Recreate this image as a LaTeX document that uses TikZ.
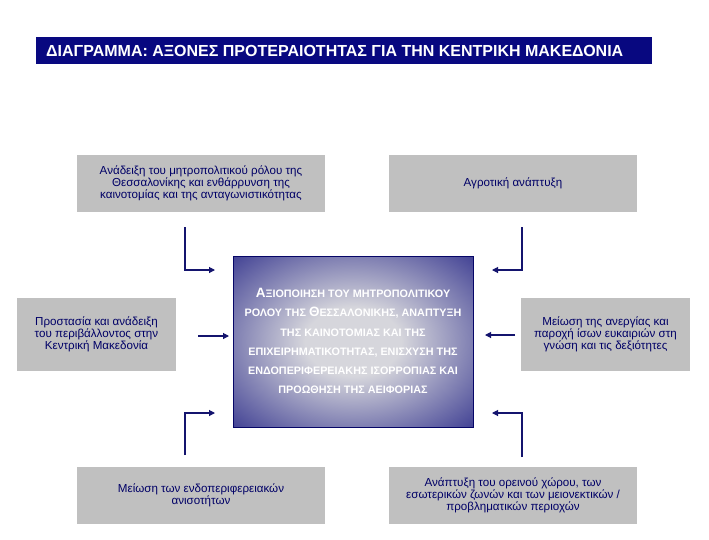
\documentclass[tikz,border=0pt]{standalone}
\usepackage{fontspec}
\setmainfont{Liberation Sans}
\usetikzlibrary{arrows.meta}
\definecolor{navy}{RGB}{8,8,128}
\definecolor{cnavy}{RGB}{28,28,130}
\definecolor{boxgray}{RGB}{192,192,192}
\definecolor{txtnavy}{RGB}{0,0,102}
\definecolor{arrnavy}{RGB}{20,20,110}
\definecolor{centerlight}{RGB}{214,214,220}
\pgfdeclareradialshading{ctrshade}{\pgfpoint{0bp}{0bp}}{%
  color(0bp)=(centerlight); color(10bp)=(centerlight);
  color(26bp)=(cnavy!50!centerlight); color(42bp)=(cnavy); color(50bp)=(cnavy); color(80bp)=(cnavy)}
\tikzset{
  graybox/.style={fill=boxgray, draw=none, inner sep=0pt, text=txtnavy, align=center,
    font=\fontsize{11.6}{12}\selectfont},
  conn/.style={draw=arrnavy, line width=1.1pt, -{Triangle[length=6pt,width=6pt]}},
}
\begin{document}
\begin{tikzpicture}[x=1pt,y=-1pt]
\useasboundingbox (0,0) rectangle (709,539);
\fill[white] (0,0) rectangle (709,539);
% title
\node[fill=navy, minimum width=616pt, minimum height=27pt, anchor=north west, inner sep=0pt] (title) at (36,37) {};
\node[anchor=west, text=white, font=\bfseries\fontsize{16}{18}\selectfont, inner sep=0pt] (titletext) at (46,50.5) {ΔΙΑΓΡΑΜΜΑ: ΑΞΟΝΕΣ ΠΡΟΤΕΡΑΙΟΤΗΤΑΣ ΓΙΑ ΤΗΝ ΚΕΝΤΡΙΚΗ ΜΑΚΕΔΟΝΙΑ};
% center box
\shade[shading=ctrshade] (233,256) rectangle (473,427);
\draw[navy!80!black, line width=0.8pt] (233,256) rectangle (473,427);
\node[text=white, align=center, inner sep=0pt, font=\bfseries\fontsize{10.8}{19.2}\selectfont] (center) at (353,341)
 {{\fontsize{13.5}{19.2}\selectfont Α}ΞΙΟΠΟΙΗΣΗ ΤΟΥ ΜΗΤΡΟΠΟΛΙΤΙΚΟΥ\\
  ΡΟΛΟΥ ΤΗΣ {\fontsize{13.5}{19.2}\selectfont Θ}ΕΣΣΑΛΟΝΙΚΗΣ, ΑΝΑΠΤΥΞΗ\\
  ΤΗΣ ΚΑΙΝΟΤΟΜΙΑΣ ΚΑΙ ΤΗΣ\\
  ΕΠΙΧΕΙΡΗΜΑΤΙΚΟΤΗΤΑΣ, ΕΝΙΣΧΥΣΗ ΤΗΣ\\
  ΕΝΔΟΠΕΡΙΦΕΡΕΙΑΚΗΣ ΙΣΟΡΡΟΠΙΑΣ ΚΑΙ\\
  ΠΡΟΩΘΗΣΗ ΤΗΣ ΑΕΙΦΟΡΙΑΣ};
% boxes
\node[graybox, minimum width=248pt, minimum height=57pt] (tl) at (201,183.5)
 {Ανάδειξη του μητροπολιτικού ρόλου της\\Θεσσαλονίκης και ενθάρρυνση της\\καινοτομίας και της ανταγωνιστικότητας};
\node[graybox, minimum width=248pt, minimum height=57pt] (tr) at (513,183.5)
 {Αγροτική ανάπτυξη};
\node[graybox, minimum width=159pt, minimum height=73pt] (ml) at (96.5,334.5)
 {Προστασία και ανάδειξη\\του περιβάλλοντος στην\\Κεντρική Μακεδονία};
\node[graybox, minimum width=169pt, minimum height=73pt] (mr) at (605.5,334.5)
 {Μείωση της ανεργίας και\\παροχή ίσων ευκαιριών στη\\γνώση και τις δεξιότητες};
\node[graybox, minimum width=248pt, minimum height=57pt] (bl) at (201,495.5)
 {Μείωση των ενδοπεριφερειακών\\ανισοτήτων};
\node[graybox, minimum width=248pt, minimum height=57pt] (br) at (513,495.5)
 {Ανάπτυξη του ορεινού χώρου, των\\εσωτερικών ζωνών και των μειονεκτικών /\\προβληματικών περιοχών};
% connectors
\coordinate (a1s) at (185,227); \coordinate (a1e) at (215,270);
\coordinate (a2s) at (522,227); \coordinate (a2e) at (492,270);
\coordinate (a3s) at (185,455); \coordinate (a3e) at (215,413);
\coordinate (a4s) at (522,457); \coordinate (a4e) at (492,413);
\coordinate (a5s) at (198,336); \coordinate (a5e) at (229,336);
\coordinate (a6s) at (515,335); \coordinate (a6e) at (485,335);
\draw[conn] (a1s) |- (a1e);
\draw[conn] (a2s) |- (a2e);
\draw[conn] (a3s) |- (a3e);
\draw[conn] (a4s) |- (a4e);
\draw[conn] (a5s) -- (a5e);
\draw[conn] (a6s) -- (a6e);
\end{tikzpicture}
\end{document}
